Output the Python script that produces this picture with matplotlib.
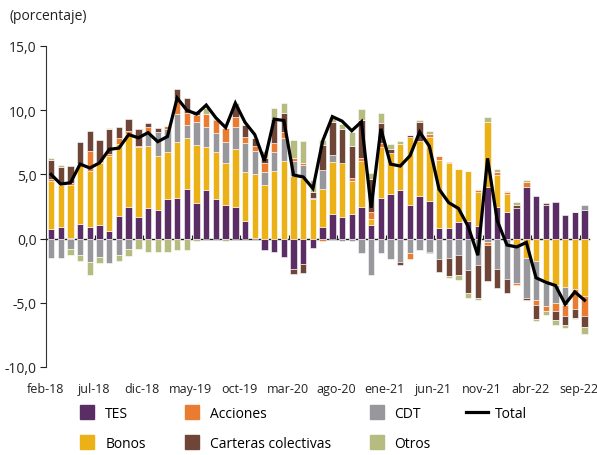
import numpy as np
import matplotlib
matplotlib.use("Agg")
import matplotlib.pyplot as plt
import matplotlib.transforms as mtransforms
from matplotlib.lines import Line2D

plt.rcParams['font.family'] = ['Open Sans', 'DejaVu Sans']

months = ["feb-18", "mar-18", "abr-18", "may-18", "jun-18", "jul-18", "ago-18", "sep-18", "oct-18", "nov-18",
          "dic-18", "ene-19", "feb-19", "mar-19", "abr-19", "may-19", "jun-19", "jul-19", "ago-19", "sep-19",
          "oct-19", "nov-19", "dic-19", "ene-20", "feb-20", "mar-20", "abr-20", "may-20", "jun-20", "jul-20",
          "ago-20", "sep-20", "oct-20", "nov-20", "dic-20", "ene-21", "feb-21", "mar-21", "abr-21", "may-21",
          "jun-21", "jul-21", "ago-21", "sep-21", "oct-21", "nov-21", "dic-21", "ene-22", "feb-22", "mar-22",
          "abr-22", "may-22", "jun-22", "jul-22", "ago-22", "sep-22"]

tes = [0.75, 0.9, 0.05, 1.15, 0.9, 1.05, 0.6, 1.75, 2.45, 1.65,
       2.35, 2.2, 3.05, 3.2, 3.9, 2.75, 3.75, 3.05, 2.6, 2.45,
       1.4, 0.05, -0.9, -1.05, -1.45, -2.35, -2.0, -0.75, 0.9, 1.9,
       1.65, 1.9, 2.45, 1.05, 3.2, 3.45, 3.75, 2.6, 3.3, 2.95,
       0.8, 0.8, 1.3, 1.35, 1.0, 4.05, 2.45, 2.05, 2.35, 4.0,
       3.3, 2.65, 2.85, 1.85, 2.05, 2.2]
bonos = [3.7, 3.3, 4.15, 4.65, 4.4, 4.8, 5.8, 5.65, 5.7, 5.45,
         4.85, 4.25, 3.7, 4.35, 3.95, 4.55, 3.4, 3.7, 3.25, 4.55,
         3.75, 5.0, 4.2, 5.3, 6.05, 4.85, 4.7, 3.05, 3.0, 4.1,
         4.2, 2.6, 3.6, 0.45, 3.95, 3.25, 3.6, 5.3, 4.3, 4.95,
         5.3, 5.05, 4.1, 3.95, 2.6, 5.0, 2.5, 1.4, -0.5, -1.5,
         -1.75, -3.45, -3.6, -3.75, -3.95, -4.5]
cdt = [-1.5, -1.5, -0.8, -1.3, -1.8, -1.4, -1.9, -1.3, -0.8, 0.0,
       1.05, 1.85, 1.75, 2.15, 1.0, 1.75, 1.55, 1.5, 1.7, 1.7,
       2.3, 1.75, 0.95, 1.45, 1.8, 1.2, 1.05, 0.1, 1.45, 0.5,
       -0.2, -0.2, -1.15, -2.85, -1.15, -1.6, -1.85, -1.15, -0.9, -1.05,
       -1.6, -1.5, -1.3, -2.45, -2.05, -0.3, -2.35, -3.15, -2.95, -3.1,
       -3.0, -1.8, -1.45, -1.45, 0.0, 0.4]
acciones = [0.2, 0.1, 0.1, 0.0, 1.5, 0.1, 0.15, 0.45, 0.25, 0.1,
            0.45, 0.0, 0.25, 1.15, 0.9, 0.6, 1.0, 1.0, 1.05, 0.75,
            0.45, 0.45, 0.75, 0.7, 0.45, 0.2, 0.15, 0.0, -0.2, 0.0,
            0.0, 0.25, 0.2, 0.55, 0.3, 0.0, 0.0, -0.45, 0.0, 0.25,
            0.35, 0.1, 0.0, 0.0, 0.15, -0.2, 0.25, 0.15, -0.15, 0.4,
            -0.45, -0.35, -0.55, -0.85, -1.5, -1.55]
carteras = [1.5, 1.3, 1.35, 1.7, 1.55, 1.75, 2.0, 0.85, 0.95, 1.35,
            0.3, 0.3, 0.0, 0.8, 1.2, 0.3, 0.0, 0.1, 0.0, 0.9,
            0.95, 0.55, 0.4, 1.85, 1.5, -0.4, -0.7, 0.45, 1.95, 2.55,
            2.7, 2.5, 2.95, 2.6, 1.55, 0.25, -0.2, 0.2, 1.45, -0.1,
            -1.0, -1.4, -1.5, -1.75, -2.55, -2.8, -1.5, -1.1, 0.25, -0.15,
            -1.1, 0.1, -0.75, -0.65, -0.7, -0.8]
otros = [0.15, 0.15, -0.45, -0.45, -1.05, -0.5, 0.1, -0.45, -0.55, -0.8,
         -1.05, -1.05, -1.05, -0.9, -0.85, -0.2, 0.45, 0.0, -0.15, 0.2,
         0.0, 0.0, 0.5, 0.9, 0.75, 1.45, 1.7, 1.0, 0.4, 0.45,
         0.35, 1.05, 0.9, 0.45, 0.8, 0.45, 0.25, 0.0, 0.2, 0.25,
         0.0, -0.15, -0.4, -0.4, -0.2, 0.4, 0.25, 0.1, 0.25, 0.2,
         -0.15, -0.35, -0.4, -0.3, -0.15, -0.6]
total = [5.0, 4.25, 4.35, 5.8, 5.5, 5.9, 6.95, 7.05, 8.1, 7.85,
         8.25, 7.55, 7.95, 10.95, 10.0, 9.7, 10.4, 9.4, 8.65, 10.55,
         9.05, 8.1, 6.05, 9.3, 9.2, 4.95, 4.8, 3.9, 7.6, 9.5,
         9.15, 8.4, 9.1, 2.4, 8.55, 5.8, 5.65, 6.45, 8.3, 7.2,
         3.85, 2.8, 2.35, 0.95, -1.3, 6.25, 1.4, -0.5, -0.65, -0.3,
         -3.05, -3.4, -3.65, -5.1, -4.15, -4.8]

tick_labels = ["feb-18", "jul-18", "dic-18", "may-19", "oct-19", "mar-20",
               "ago-20", "ene-21", "jun-21", "nov-21", "abr-22", "sep-22"]

series_names = ["TES", "Bonos", "CDT", "Acciones", "Carteras colectivas", "Otros"]
series_vals = [tes, bonos, cdt, acciones, carteras, otros]
colors = {"TES": "#5a2e64", "Bonos": "#ecb116", "CDT": "#98989c",
          "Acciones": "#e97c30", "Carteras colectivas": "#6f4537", "Otros": "#b6bb80"}

fig = plt.figure(figsize=(5.97, 4.56), dpi=100)
ax = fig.add_axes([46.2 / 597, 1 - 368 / 456, (589.4 - 46.2) / 597, (368 - 47) / 456])

n = len(months)
x = np.arange(n)
pos_base = np.zeros(n)
neg_base = np.zeros(n)
for name, vals in zip(series_names, series_vals):
    v = np.array(vals, dtype=float)
    base = np.where(v >= 0, pos_base, neg_base)
    ax.bar(x, v, bottom=base, width=0.66, color=colors[name],
           edgecolor="white", linewidth=0.4, zorder=2)
    pos_base = pos_base + np.where(v > 0, v, 0)
    neg_base = neg_base + np.where(v < 0, v, 0)

ax.plot(x, total, color="black", lw=2.3, zorder=5, solid_joinstyle="miter")

ax.set_xlim(-0.5, n - 0.5)
ax.set_ylim(-10, 15)
yt = [-10, -5, 0, 5, 10, 15]
ax.set_yticks(yt)
ax.set_yticklabels([f"{v:.1f}".replace(".", ",") for v in yt])
label_idx = [months.index(m) for m in tick_labels]
ax.set_xticks(label_idx)
ax.set_xticklabels(tick_labels)
ax.tick_params(axis="x", length=0, pad=11, labelsize=9, colors="#222222")
ax.tick_params(axis="y", length=4, width=0.8, pad=3, labelsize=10, colors="#222222")
shift = mtransforms.ScaledTranslation(-6 / 100, 0, fig.dpi_scale_trans)
for lab in ax.get_xticklabels():
    lab.set_transform(lab.get_transform() + shift)
for s in ["top", "right", "bottom"]:
    ax.spines[s].set_visible(False)
ax.spines["left"].set_color("#333333")
ax.spines["left"].set_linewidth(0.8)

# zero line with small inner ticks between categories
sec = ax.secondary_xaxis(10 / 25)
sec.set_xticks([i - 0.5 for i in label_idx[1:]])
sec.tick_params(axis="x", direction="in", length=3, width=0.8, labelbottom=False, color="#222222")
sec.spines["bottom"].set_color("#222222")
sec.spines["bottom"].set_linewidth(1.0)

fig.text(10 / 597, 1 - 17 / 456, "(porcentaje)", fontsize=10, va="center", ha="left", color="#222222")

legend_order = ["TES", "Bonos", "Acciones", "Carteras colectivas", "CDT", "Otros"]
handles = [Line2D([], [], marker="s", markersize=10.5, linestyle="none", color=colors[k]) for k in legend_order]
handles.append(Line2D([], [], color="black", lw=2.3))
labels = legend_order + ["Total"]
fig.legend(handles, labels, ncol=4, loc="upper left", bbox_to_anchor=(76 / 597, 1 - 407 / 456),
           frameon=False, fontsize=10, handlelength=1.6, handletextpad=0.5,
           columnspacing=2.5, labelspacing=1.05, borderaxespad=0, borderpad=0)

fig.savefig("out.png", dpi=100)
